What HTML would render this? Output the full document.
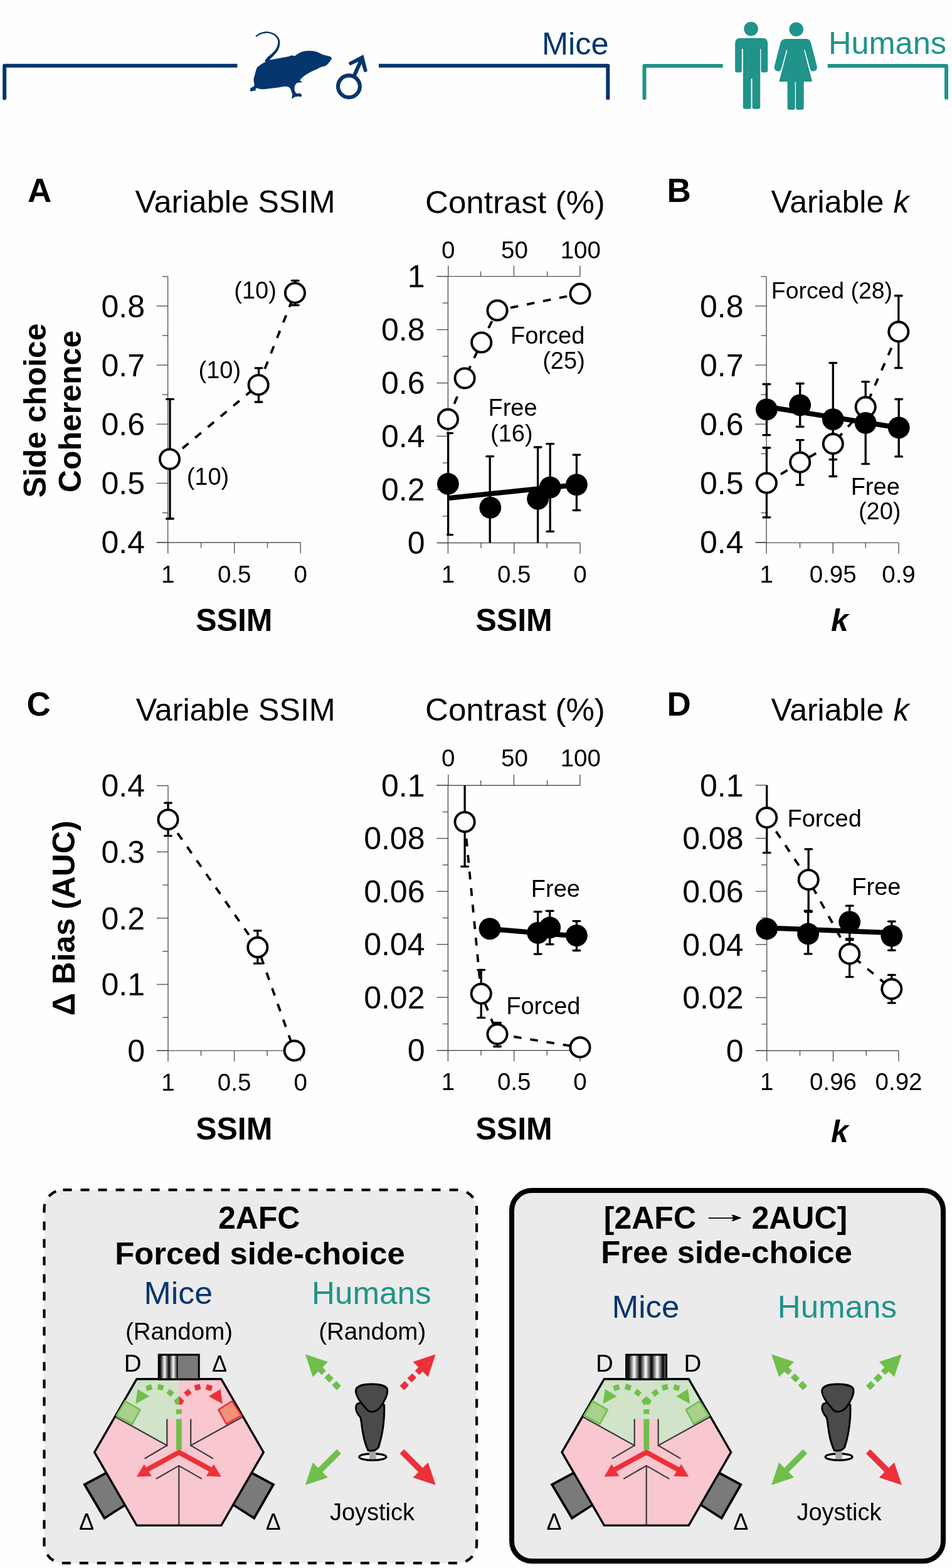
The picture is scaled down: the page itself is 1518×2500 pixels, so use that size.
<!DOCTYPE html>
<html><head><meta charset="utf-8"><title>Figure</title>
<style>
html,body{margin:0;padding:0;background:#FEFEFE;width:1518px;height:2500px;overflow:hidden;}
svg{display:block;}
text{font-family:'Liberation Sans', Arial, sans-serif;}
</style></head>
<body>
<svg width="1518" height="2500" viewBox="0 0 1518 2500">
<defs>
<linearGradient id="g1" x1="0" x2="1" y1="0" y2="0">
<stop offset="0" stop-color="#000"/><stop offset="0.5" stop-color="#fff"/><stop offset="1" stop-color="#000"/>
</linearGradient>
<pattern id="grat2" patternUnits="userSpaceOnUse" x="255.4" y="0" width="14" height="50">
<rect width="14" height="50" fill="url(#g1)"/>
</pattern>
<pattern id="grat3" patternUnits="userSpaceOnUse" x="1002" y="0" width="18.4" height="50">
<rect width="18.4" height="50" fill="url(#g1)"/>
</pattern>
</defs>
<rect x="0" y="0" width="1518" height="2500" fill="#FEFEFE"/>
<g fill="none" stroke="#04356D" stroke-width="6" stroke-linejoin="round">
<path d="M7.2 156.5 L7.2 104.8 L378.4 104.8"/>
<path d="M604 104.8 L969.3 104.8 L969.3 156.3"/>
</g>
<g fill="#04356D">
<circle cx="7.2" cy="156.5" r="3"/><circle cx="969.3" cy="156.3" r="3"/>
</g>
<g fill="none" stroke="#20938A" stroke-width="6" stroke-linejoin="round">
<path d="M1027.5 156.3 L1027.5 105 L1152.7 105"/>
<path d="M1319.7 105 L1509 105 L1509 156"/>
</g>
<g fill="#20938A">
<circle cx="1027.5" cy="156.3" r="3"/><circle cx="1509" cy="156" r="3"/>
</g>
<text x="864" y="87.1" font-size="50.5" fill="#04356D">Mice</text>
<text x="1321" y="86.3" font-size="50.5" fill="#20938A">Humans</text>
<path d="M420.1 100.2 C422.5 98.9 426.4 96.8 430.1 95.7 C433.8 94.6 440.5 93.8 445 93 C449.5 92.2 457.3 90.8 460.2 90.1 C463.1 89.4 462.7 88.8 464.2 88.6 C465.7 88.4 468.8 89.3 470.2 89.1 C471.6 88.9 471.7 88 473.2 87.1 C474.7 86.2 477.6 84 480.2 83.1 C482.8 82.2 487.3 81.3 490.3 81.1 C493.3 80.9 497.6 81.1 500.3 81.6 C503 82 506.2 83.3 508.3 84.1 C510.4 84.9 512.5 86.4 514.3 87.1 C516.1 87.8 518.6 88.1 520.4 88.6 C522.2 89.1 525.1 89.6 526.4 90.3 C527.7 91 528.8 92.2 528.9 93.1 C529 94 528.4 94.8 527.4 96.2 C526.4 97.6 523.8 100.9 522.4 102.2 C521 103.5 519.8 104.5 518.3 105.2 C516.8 105.9 514.2 106 512.3 106.7 C510.3 107.5 507.7 109.1 505.3 110.2 C502.9 111.3 499.2 112.7 496.3 114.2 C493.4 115.7 488.7 118.5 486.3 120.2 C483.9 121.9 481.4 123.9 480.2 125.2 C479 126.5 478.5 127.8 478.6 128.6 C478.8 129.3 481 129.7 481.2 130.2 C481.4 130.7 480.8 131.5 480.2 131.7 C479.6 131.9 478.4 131.2 477.2 131.4 C476 131.6 473.3 132.1 472.2 133.3 C471.1 134.5 470 137.5 469.7 139.3 C469.4 141.1 469.7 143.8 470.2 145.3 C470.7 146.8 472 148.5 473.2 149 C474.4 149.5 477 148.5 478.2 148.8 C479.4 149.1 480.6 150.5 480.9 151.3 C481.2 152.1 480.9 153.9 480.2 154.3 C479.5 154.7 477.7 153.8 476.2 153.8 C474.7 153.8 471.7 154 470.2 154.5 C468.7 155 466.9 157.2 466.2 157.3 C465.4 157.4 465.2 156.2 465.2 155.3 C465.2 154.4 466.3 152.7 466.2 151.3 C466.1 150 465.3 148 464.7 146.3 C464.1 144.7 463.6 141.6 462.2 140.3 C460.8 139 457.8 138 455.2 137.8 C452.6 137.7 448.9 138.8 445.1 139.3 C441.3 139.8 434.2 140.9 430.1 141.3 C426.1 141.8 420.8 142.3 418.1 142.3 C415.4 142.3 413.6 141.6 412.1 141.3 C410.6 141 408.7 140.2 408 140.6 C407.3 141 408.1 143.7 407.5 144.3 C406.9 144.9 405.1 144.6 404 144.8 C402.9 145 400.8 146 400 145.8 C399.2 145.6 399.1 144.1 399 143.3 C398.9 142.5 398.9 141 399.5 140.3 C400.1 139.6 402.1 139.4 403 138.8 C403.9 138.2 405.2 137.6 405.5 136.3 C405.8 135 404.9 131.7 404.8 130.2 C404.7 128.7 404.2 128 404.5 126.2 C404.8 124.4 405.7 120.9 406.5 118.2 C407.3 115.5 408.5 110.3 409.6 108.2 C410.7 106.1 412.5 105.4 414.1 104.2 C415.7 103 417.7 101.5 420.1 100.2 Z" fill="#04356D"/>
<path d="M408.6 58.9 C409.9 58.2 413.3 55.4 416.4 54.4 C419.4 53.3 423.6 52.5 427 52.8 C430.4 53.1 434.2 54.6 436.8 56.3 C439.4 58 441.4 60.8 442.5 63.1 C443.5 65.4 443.4 67.7 442.9 70.3 C442.5 72.8 441.2 76 439.6 78.5 C438 81.1 435.5 83.3 433.4 85.5 C431.2 87.6 428.4 89.3 426.5 91.3 C424.6 93.3 422.8 96.3 422 97.3 L427 100.7 C427.6 99.7 428.9 96.7 430.5 94.7 C432.1 92.7 434.5 90.9 436.6 88.5 C438.7 86.2 441.4 83.4 443 80.5 C444.6 77.5 445.9 73.8 446.3 70.7 C446.6 67.6 446.5 64.7 445.1 61.9 C443.8 59.1 441.2 56 438.2 54.1 C435.2 52.2 431 50.7 427.2 50.4 C423.4 50.1 418.9 51.1 415.6 52.2 C412.3 53.3 408.8 56.2 407.4 57.1 Z" fill="#04356D"/>
<g fill="none" stroke="#04356D" stroke-width="6.1">
<circle cx="556.4" cy="137.8" r="17.4"/>
<path d="M564 122.5 L578 91"/>
</g>
<path d="M579.4 87.3 L585.9 113.5 L580.8 115.6 L576.3 101.5 L571.2 98.6 L558.1 104.6 L555.5 99.7 Z" fill="#04356D"/>
<g fill="#20938A">
<circle cx="1197.5" cy="46.1" r="11.3"/>
<path d="M1180.5 60.8 L1215.8 60.8 Q1224.2 60.8 1224.2 69.2 L1224.2 112.6 Q1224.2 115.6 1221.2 115.6 L1216.5 115.6 Q1213.5 115.6 1213.5 112.6 L1213.5 78 L1212.2 78 L1212.2 170.5 Q1212.2 173.7 1209 173.7 L1203 173.7 Q1199.5 173.7 1199.5 170.5 L1199.5 125.6 L1197.5 125.6 L1197.5 170.5 Q1197.5 173.7 1194.3 173.7 L1188 173.7 Q1184.8 173.7 1184.8 170.5 L1184.8 78 L1182.8 78 L1182.8 112.6 Q1182.8 115.6 1179.8 115.6 L1175.1 115.6 Q1172.1 115.6 1172.1 112.6 L1172.1 69.2 Q1172.1 60.8 1180.5 60.8 Z"/>
<circle cx="1269.7" cy="46.7" r="11.3"/>
<path d="M1254 62.1 L1285.5 62.1 Q1291 62.1 1293 68 L1302.5 105 Q1304 112.5 1297.5 113.6 Q1293 114 1291.8 110 L1283.5 79.5 L1282 79.8 L1295.1 130.3 L1281.7 130.3 L1281.7 171.5 Q1281.7 175 1278.2 175 L1272.5 175 Q1269 175 1269 171.5 L1269 130.3 L1267.7 130.3 L1267.7 171.5 Q1267.7 175 1264.2 175 L1259 175 Q1255.6 175 1255.6 171.5 L1255.6 130.3 L1242.3 130.3 L1255.5 79.8 L1254 79.5 L1245.7 110 Q1244.5 114 1240 113.6 Q1233.5 112.5 1235 105 L1244.5 68 Q1246.5 62.1 1254 62.1 Z"/>
</g>
<text x="44" y="321.7" font-size="53" font-weight="bold">A</text>
<text x="215.5" y="339" font-size="50" textLength="319.2" lengthAdjust="spacingAndGlyphs">Variable SSIM</text>
<line x1="267.6" y1="440.7" x2="267.6" y2="865" stroke="#555555" stroke-width="1.4"/>
<line x1="249.6" y1="864.7" x2="267.6" y2="864.7" stroke="#555555" stroke-width="1.4"/>
<line x1="249.6" y1="770.5" x2="267.6" y2="770.5" stroke="#555555" stroke-width="1.4"/>
<line x1="249.6" y1="676.3" x2="267.6" y2="676.3" stroke="#555555" stroke-width="1.4"/>
<line x1="249.6" y1="582.1" x2="267.6" y2="582.1" stroke="#555555" stroke-width="1.4"/>
<line x1="249.6" y1="487.9" x2="267.6" y2="487.9" stroke="#555555" stroke-width="1.4"/>
<line x1="259" y1="817.6" x2="267.6" y2="817.6" stroke="#555555" stroke-width="1.4"/>
<line x1="259" y1="723.4" x2="267.6" y2="723.4" stroke="#555555" stroke-width="1.4"/>
<line x1="259" y1="629.2" x2="267.6" y2="629.2" stroke="#555555" stroke-width="1.4"/>
<line x1="259" y1="535" x2="267.6" y2="535" stroke="#555555" stroke-width="1.4"/>
<line x1="259" y1="440.8" x2="267.6" y2="440.8" stroke="#555555" stroke-width="1.4"/>
<text x="231" y="882.3" font-size="50" text-anchor="end">0.4</text>
<text x="231" y="788.1" font-size="50" text-anchor="end">0.5</text>
<text x="231" y="693.9" font-size="50" text-anchor="end">0.6</text>
<text x="231" y="599.7" font-size="50" text-anchor="end">0.7</text>
<text x="231" y="505.5" font-size="50" text-anchor="end">0.8</text>
<line x1="250" y1="865" x2="479.5" y2="865" stroke="#555555" stroke-width="1.4"/>
<line x1="267.7" y1="865" x2="267.7" y2="882.4" stroke="#555555" stroke-width="1.4"/>
<line x1="373.7" y1="865" x2="373.7" y2="882.4" stroke="#555555" stroke-width="1.4"/>
<line x1="479.2" y1="865" x2="479.2" y2="882.4" stroke="#555555" stroke-width="1.4"/>
<line x1="320.6" y1="865" x2="320.6" y2="873.4" stroke="#555555" stroke-width="1.4"/>
<line x1="426.5" y1="865" x2="426.5" y2="873.4" stroke="#555555" stroke-width="1.4"/>
<text x="267.7" y="928.6" font-size="38.5" text-anchor="middle">1</text>
<text x="373.7" y="928.6" font-size="38.5" text-anchor="middle">0.5</text>
<text x="479.2" y="928.6" font-size="38.5" text-anchor="middle">0</text>
<text x="373.4" y="1006" font-size="50" text-anchor="middle" font-weight="bold">SSIM</text>
<g transform="translate(73,654.5) rotate(-90)">
<text x="0" y="0" font-size="50" text-anchor="middle" font-weight="bold">Side choice</text>
</g>
<g transform="translate(129.3,656) rotate(-90)">
<text x="0" y="0" font-size="50" text-anchor="middle" font-weight="bold">Coherence</text>
</g>
<path d="M270.5 732 L412.1 613.7 L470.4 467" fill="none" stroke="#000" stroke-width="3.8" stroke-dasharray="12.5 14"/>
<g stroke="#000" stroke-width="3.3" stroke-linecap="round" fill="none">
<line x1="271" y1="636.4" x2="271" y2="827" stroke-linecap="butt"/>
<line x1="265.6" y1="636.4" x2="276.4" y2="636.4"/>
<line x1="265.6" y1="827" x2="276.4" y2="827"/>
</g>
<g stroke="#000" stroke-width="3.3" stroke-linecap="round" fill="none">
<line x1="412.5" y1="586.8" x2="412.5" y2="641" stroke-linecap="butt"/>
<line x1="407.1" y1="586.8" x2="417.9" y2="586.8"/>
<line x1="407.1" y1="641" x2="417.9" y2="641"/>
</g>
<g stroke="#000" stroke-width="3.3" stroke-linecap="round" fill="none">
<line x1="470.7" y1="447.3" x2="470.7" y2="486.6" stroke-linecap="butt"/>
<line x1="465.3" y1="447.3" x2="476.1" y2="447.3"/>
<line x1="465.3" y1="486.6" x2="476.1" y2="486.6"/>
</g>
<circle cx="270.5" cy="732" r="15.6" fill="#fff" stroke="#000" stroke-width="3.9"/>
<circle cx="412.1" cy="613.7" r="15.6" fill="#fff" stroke="#000" stroke-width="3.9"/>
<circle cx="470.4" cy="467" r="15.6" fill="#fff" stroke="#000" stroke-width="3.9"/>
<text x="297.7" y="773.1" font-size="38">(10)</text>
<text x="316.5" y="602.5" font-size="38">(10)</text>
<text x="373.3" y="476" font-size="38">(10)</text>
<text x="678" y="339.6" font-size="50" textLength="286.9" lengthAdjust="spacingAndGlyphs">Contrast (%)</text>
<line x1="714.4" y1="440.6" x2="714.4" y2="865.5" stroke="#555555" stroke-width="1.4"/>
<line x1="696.4" y1="865.5" x2="714.4" y2="865.5" stroke="#555555" stroke-width="1.4"/>
<line x1="696.4" y1="780.5" x2="714.4" y2="780.5" stroke="#555555" stroke-width="1.4"/>
<line x1="696.4" y1="695.5" x2="714.4" y2="695.5" stroke="#555555" stroke-width="1.4"/>
<line x1="696.4" y1="610.6" x2="714.4" y2="610.6" stroke="#555555" stroke-width="1.4"/>
<line x1="696.4" y1="525.6" x2="714.4" y2="525.6" stroke="#555555" stroke-width="1.4"/>
<line x1="696.4" y1="440.6" x2="714.4" y2="440.6" stroke="#555555" stroke-width="1.4"/>
<line x1="705.8" y1="823" x2="714.4" y2="823" stroke="#555555" stroke-width="1.4"/>
<line x1="705.8" y1="738" x2="714.4" y2="738" stroke="#555555" stroke-width="1.4"/>
<line x1="705.8" y1="653" x2="714.4" y2="653" stroke="#555555" stroke-width="1.4"/>
<line x1="705.8" y1="568.1" x2="714.4" y2="568.1" stroke="#555555" stroke-width="1.4"/>
<line x1="705.8" y1="483.1" x2="714.4" y2="483.1" stroke="#555555" stroke-width="1.4"/>
<text x="677.5" y="883.1" font-size="50" text-anchor="end">0</text>
<text x="677.5" y="798.1" font-size="50" text-anchor="end">0.2</text>
<text x="677.5" y="713.1" font-size="50" text-anchor="end">0.4</text>
<text x="677.5" y="628.2" font-size="50" text-anchor="end">0.6</text>
<text x="677.5" y="543.2" font-size="50" text-anchor="end">0.8</text>
<text x="677.5" y="458.2" font-size="50" text-anchor="end">1</text>
<line x1="697.6" y1="865.5" x2="925" y2="865.5" stroke="#555555" stroke-width="1.4"/>
<line x1="714.4" y1="865.5" x2="714.4" y2="882.9" stroke="#555555" stroke-width="1.4"/>
<line x1="819.7" y1="865.5" x2="819.7" y2="882.9" stroke="#555555" stroke-width="1.4"/>
<line x1="925" y1="865.5" x2="925" y2="882.9" stroke="#555555" stroke-width="1.4"/>
<line x1="767" y1="865.5" x2="767" y2="873.9" stroke="#555555" stroke-width="1.4"/>
<line x1="872.2" y1="865.5" x2="872.2" y2="873.9" stroke="#555555" stroke-width="1.4"/>
<text x="714.4" y="928.6" font-size="38.5" text-anchor="middle">1</text>
<text x="819.7" y="928.6" font-size="38.5" text-anchor="middle">0.5</text>
<text x="925" y="928.6" font-size="38.5" text-anchor="middle">0</text>
<line x1="696.2" y1="440.6" x2="925.3" y2="440.6" stroke="#555555" stroke-width="1.4"/>
<line x1="714.8" y1="440.6" x2="714.8" y2="423.4" stroke="#555555" stroke-width="1.4"/>
<line x1="819.4" y1="440.6" x2="819.4" y2="423.4" stroke="#555555" stroke-width="1.4"/>
<line x1="924.8" y1="440.6" x2="924.8" y2="423.4" stroke="#555555" stroke-width="1.4"/>
<line x1="766.5" y1="440.6" x2="766.5" y2="432.6" stroke="#555555" stroke-width="1.4"/>
<line x1="872.6" y1="440.6" x2="872.6" y2="432.6" stroke="#555555" stroke-width="1.4"/>
<text x="714.8" y="412.3" font-size="38.5" text-anchor="middle">0</text>
<text x="820.4" y="412.3" font-size="38.5" text-anchor="middle">50</text>
<text x="925.8" y="412.3" font-size="38.5" text-anchor="middle">100</text>
<text x="819.6" y="1006" font-size="50" text-anchor="middle" font-weight="bold">SSIM</text>
<g stroke="#000" stroke-width="3.3" fill="none">
<line x1="714.6" y1="690.6" x2="714.6" y2="852.7"/>
<line x1="713.6" y1="690.6" x2="721.5" y2="690.6" stroke-linecap="round"/>
<line x1="713.6" y1="852.7" x2="721.5" y2="852.7" stroke-linecap="round"/>
</g>
<g stroke="#000" stroke-width="3.3" stroke-linecap="round" fill="none">
<line x1="781.2" y1="727.7" x2="781.2" y2="865.5" stroke-linecap="butt"/>
<line x1="775.8" y1="727.7" x2="786.6" y2="727.7"/>
</g>
<g stroke="#000" stroke-width="3.3" stroke-linecap="round" fill="none">
<line x1="857.6" y1="713" x2="857.6" y2="865.5" stroke-linecap="butt"/>
<line x1="852.2" y1="713" x2="863" y2="713"/>
</g>
<g stroke="#000" stroke-width="3.3" stroke-linecap="round" fill="none">
<line x1="877.2" y1="707.7" x2="877.2" y2="847.3" stroke-linecap="butt"/>
<line x1="871.8" y1="707.7" x2="882.6" y2="707.7"/>
<line x1="871.8" y1="847.3" x2="882.6" y2="847.3"/>
</g>
<g stroke="#000" stroke-width="3.3" stroke-linecap="round" fill="none">
<line x1="919.4" y1="725.1" x2="919.4" y2="813.6" stroke-linecap="butt"/>
<line x1="914" y1="725.1" x2="924.8" y2="725.1"/>
<line x1="914" y1="813.6" x2="924.8" y2="813.6"/>
</g>
<path d="M714.4 794.2 L919.4 772.9" fill="none" stroke="#000" stroke-width="8"/>
<circle cx="714.4" cy="771.5" r="17.4" fill="#000"/>
<circle cx="781.8" cy="809.4" r="17.4" fill="#000"/>
<circle cx="857.6" cy="795.3" r="17.4" fill="#000"/>
<circle cx="877.2" cy="777.1" r="17.4" fill="#000"/>
<circle cx="919.4" cy="772.9" r="17.4" fill="#000"/>
<path d="M714.4 668.4 L741.1 603 L767.7 546 L793 494.9 L925 468.3" fill="none" stroke="#000" stroke-width="3.8" stroke-dasharray="12.5 14"/>
<circle cx="714.4" cy="668.4" r="15.6" fill="#fff" stroke="#000" stroke-width="3.9"/>
<circle cx="741.1" cy="603" r="15.6" fill="#fff" stroke="#000" stroke-width="3.9"/>
<circle cx="767.7" cy="546" r="15.6" fill="#fff" stroke="#000" stroke-width="3.9"/>
<circle cx="793" cy="494.9" r="15.6" fill="#fff" stroke="#000" stroke-width="3.9"/>
<circle cx="925" cy="468.3" r="15.6" fill="#fff" stroke="#000" stroke-width="3.9"/>
<text x="814" y="547.8" font-size="38">Forced</text>
<text x="932.8" y="588.3" font-size="38" text-anchor="end">(25)</text>
<text x="778.5" y="663.4" font-size="38">Free</text>
<text x="782" y="703.5" font-size="38">(16)</text>
<text x="1063.5" y="321.5" font-size="53" font-weight="bold">B</text>
<text x="1229.5" y="338.7" font-size="50">Variable </text>
<text x="1424.5" y="338.7" font-size="50" font-style="italic">k</text>
<line x1="1222.1" y1="440.9" x2="1222.1" y2="865" stroke="#555555" stroke-width="1.4"/>
<line x1="1204.1" y1="864.7" x2="1222.1" y2="864.7" stroke="#555555" stroke-width="1.4"/>
<line x1="1204.1" y1="770.5" x2="1222.1" y2="770.5" stroke="#555555" stroke-width="1.4"/>
<line x1="1204.1" y1="676.3" x2="1222.1" y2="676.3" stroke="#555555" stroke-width="1.4"/>
<line x1="1204.1" y1="582.1" x2="1222.1" y2="582.1" stroke="#555555" stroke-width="1.4"/>
<line x1="1204.1" y1="487.9" x2="1222.1" y2="487.9" stroke="#555555" stroke-width="1.4"/>
<line x1="1213.5" y1="817.6" x2="1222.1" y2="817.6" stroke="#555555" stroke-width="1.4"/>
<line x1="1213.5" y1="723.4" x2="1222.1" y2="723.4" stroke="#555555" stroke-width="1.4"/>
<line x1="1213.5" y1="629.2" x2="1222.1" y2="629.2" stroke="#555555" stroke-width="1.4"/>
<line x1="1213.5" y1="535" x2="1222.1" y2="535" stroke="#555555" stroke-width="1.4"/>
<line x1="1213.5" y1="440.8" x2="1222.1" y2="440.8" stroke="#555555" stroke-width="1.4"/>
<text x="1185.5" y="882.3" font-size="50" text-anchor="end">0.4</text>
<text x="1185.5" y="788.1" font-size="50" text-anchor="end">0.5</text>
<text x="1185.5" y="693.9" font-size="50" text-anchor="end">0.6</text>
<text x="1185.5" y="599.7" font-size="50" text-anchor="end">0.7</text>
<text x="1185.5" y="505.5" font-size="50" text-anchor="end">0.8</text>
<line x1="1205.5" y1="865.4" x2="1433" y2="865.4" stroke="#555555" stroke-width="1.4"/>
<line x1="1222.1" y1="865.4" x2="1222.1" y2="882.8" stroke="#555555" stroke-width="1.4"/>
<line x1="1328.2" y1="865.4" x2="1328.2" y2="882.8" stroke="#555555" stroke-width="1.4"/>
<line x1="1433" y1="865.4" x2="1433" y2="882.8" stroke="#555555" stroke-width="1.4"/>
<line x1="1275.5" y1="865.4" x2="1275.5" y2="873.8" stroke="#555555" stroke-width="1.4"/>
<line x1="1380.3" y1="865.4" x2="1380.3" y2="873.8" stroke="#555555" stroke-width="1.4"/>
<text x="1222.1" y="928.6" font-size="38.5" text-anchor="middle">1</text>
<text x="1328.2" y="928.6" font-size="38.5" text-anchor="middle">0.95</text>
<text x="1433" y="928.6" font-size="38.5" text-anchor="middle">0.9</text>
<text x="1339" y="1006" font-size="50" text-anchor="middle" font-weight="bold" font-style="italic">k</text>
<path d="M1222.4 648.5 L1433.2 682" fill="none" stroke="#000" stroke-width="8"/>
<path d="M1222.4 770.1 L1275.7 737.1 L1328.3 707.6 L1380.2 648.8 L1432.8 528.8" fill="none" stroke="#000" stroke-width="3.8" stroke-dasharray="12.5 14"/>
<g stroke="#000" stroke-width="3.3" stroke-linecap="round" fill="none">
<line x1="1222.4" y1="714" x2="1222.4" y2="824.9" stroke-linecap="butt"/>
<line x1="1217" y1="714" x2="1227.8" y2="714"/>
<line x1="1217" y1="824.9" x2="1227.8" y2="824.9"/>
</g>
<g stroke="#000" stroke-width="3.3" stroke-linecap="round" fill="none">
<line x1="1275.7" y1="701.6" x2="1275.7" y2="773.1" stroke-linecap="butt"/>
<line x1="1270.3" y1="701.6" x2="1281.1" y2="701.6"/>
<line x1="1270.3" y1="773.1" x2="1281.1" y2="773.1"/>
</g>
<g stroke="#000" stroke-width="3.3" stroke-linecap="round" fill="none">
<line x1="1328.3" y1="686" x2="1328.3" y2="732.7" stroke-linecap="butt"/>
<line x1="1322.9" y1="732.7" x2="1333.7" y2="732.7"/>
</g>
<g stroke="#000" stroke-width="3.3" stroke-linecap="round" fill="none">
<line x1="1380.2" y1="608.7" x2="1380.2" y2="660" stroke-linecap="butt"/>
<line x1="1374.8" y1="608.7" x2="1385.6" y2="608.7"/>
</g>
<g stroke="#000" stroke-width="3.3" stroke-linecap="round" fill="none">
<line x1="1432.8" y1="471.5" x2="1432.8" y2="586.7" stroke-linecap="butt"/>
<line x1="1427.4" y1="471.5" x2="1438.2" y2="471.5"/>
<line x1="1427.4" y1="586.7" x2="1438.2" y2="586.7"/>
</g>
<g stroke="#000" stroke-width="3.3" stroke-linecap="round" fill="none">
<line x1="1222.4" y1="612.5" x2="1222.4" y2="693.7" stroke-linecap="butt"/>
<line x1="1217" y1="612.5" x2="1227.8" y2="612.5"/>
<line x1="1217" y1="693.7" x2="1227.8" y2="693.7"/>
</g>
<g stroke="#000" stroke-width="3.3" stroke-linecap="round" fill="none">
<line x1="1275.7" y1="611.5" x2="1275.7" y2="680.3" stroke-linecap="butt"/>
<line x1="1270.3" y1="611.5" x2="1281.1" y2="611.5"/>
<line x1="1270.3" y1="680.3" x2="1281.1" y2="680.3"/>
</g>
<g stroke="#000" stroke-width="3.3" stroke-linecap="round" fill="none">
<line x1="1328.3" y1="578.7" x2="1328.3" y2="759.5" stroke-linecap="butt"/>
<line x1="1322.9" y1="578.7" x2="1333.7" y2="578.7"/>
<line x1="1322.9" y1="759.5" x2="1333.7" y2="759.5"/>
</g>
<g stroke="#000" stroke-width="3.3" stroke-linecap="round" fill="none">
<line x1="1380.2" y1="660" x2="1380.2" y2="739.7" stroke-linecap="butt"/>
<line x1="1374.8" y1="739.7" x2="1385.6" y2="739.7"/>
</g>
<g stroke="#000" stroke-width="3.3" stroke-linecap="round" fill="none">
<line x1="1433.2" y1="636.5" x2="1433.2" y2="727.9" stroke-linecap="butt"/>
<line x1="1427.8" y1="636.5" x2="1438.6" y2="636.5"/>
<line x1="1427.8" y1="727.9" x2="1438.6" y2="727.9"/>
</g>
<circle cx="1222.4" cy="770.1" r="15.6" fill="#fff" stroke="#000" stroke-width="3.9"/>
<circle cx="1275.7" cy="737.1" r="15.6" fill="#fff" stroke="#000" stroke-width="3.9"/>
<circle cx="1328.3" cy="707.6" r="15.6" fill="#fff" stroke="#000" stroke-width="3.9"/>
<circle cx="1380.2" cy="648.8" r="15.6" fill="#fff" stroke="#000" stroke-width="3.9"/>
<circle cx="1432.8" cy="528.8" r="15.6" fill="#fff" stroke="#000" stroke-width="3.9"/>
<circle cx="1222.4" cy="652.9" r="17.4" fill="#000"/>
<circle cx="1275.7" cy="645.8" r="17.4" fill="#000"/>
<circle cx="1328.3" cy="668.6" r="17.4" fill="#000"/>
<circle cx="1380.2" cy="674.4" r="17.4" fill="#000"/>
<circle cx="1433.2" cy="681.9" r="17.4" fill="#000"/>
<text x="1229.8" y="475.5" font-size="37.4">Forced (28)</text>
<text x="1434.8" y="789.2" font-size="38" text-anchor="end">Free</text>
<text x="1436.5" y="828" font-size="38" text-anchor="end">(20)</text>
<text x="42.6" y="1141" font-size="53" font-weight="bold">C</text>
<text x="216.8" y="1149.1" font-size="50" textLength="318" lengthAdjust="spacingAndGlyphs">Variable SSIM</text>
<line x1="268" y1="1252.5" x2="268" y2="1675.1" stroke="#555555" stroke-width="1.4"/>
<line x1="250" y1="1675.1" x2="268" y2="1675.1" stroke="#555555" stroke-width="1.4"/>
<line x1="250" y1="1569.5" x2="268" y2="1569.5" stroke="#555555" stroke-width="1.4"/>
<line x1="250" y1="1463.9" x2="268" y2="1463.9" stroke="#555555" stroke-width="1.4"/>
<line x1="250" y1="1358.3" x2="268" y2="1358.3" stroke="#555555" stroke-width="1.4"/>
<line x1="250" y1="1252.7" x2="268" y2="1252.7" stroke="#555555" stroke-width="1.4"/>
<line x1="259.4" y1="1622.3" x2="268" y2="1622.3" stroke="#555555" stroke-width="1.4"/>
<line x1="259.4" y1="1516.7" x2="268" y2="1516.7" stroke="#555555" stroke-width="1.4"/>
<line x1="259.4" y1="1411.1" x2="268" y2="1411.1" stroke="#555555" stroke-width="1.4"/>
<line x1="259.4" y1="1305.5" x2="268" y2="1305.5" stroke="#555555" stroke-width="1.4"/>
<text x="231" y="1692.7" font-size="50" text-anchor="end">0</text>
<text x="231" y="1587.1" font-size="50" text-anchor="end">0.1</text>
<text x="231" y="1481.5" font-size="50" text-anchor="end">0.2</text>
<text x="231" y="1375.9" font-size="50" text-anchor="end">0.3</text>
<text x="231" y="1270.3" font-size="50" text-anchor="end">0.4</text>
<line x1="249.6" y1="1675.1" x2="479.2" y2="1675.1" stroke="#555555" stroke-width="1.4"/>
<line x1="268" y1="1675.1" x2="268" y2="1692.5" stroke="#555555" stroke-width="1.4"/>
<line x1="373.6" y1="1675.1" x2="373.6" y2="1692.5" stroke="#555555" stroke-width="1.4"/>
<line x1="479.2" y1="1675.1" x2="479.2" y2="1692.5" stroke="#555555" stroke-width="1.4"/>
<line x1="320.5" y1="1675.1" x2="320.5" y2="1683.5" stroke="#555555" stroke-width="1.4"/>
<line x1="426" y1="1675.1" x2="426" y2="1683.5" stroke="#555555" stroke-width="1.4"/>
<text x="268" y="1739" font-size="38.5" text-anchor="middle">1</text>
<text x="373.6" y="1739" font-size="38.5" text-anchor="middle">0.5</text>
<text x="479.2" y="1739" font-size="38.5" text-anchor="middle">0</text>
<text x="373.3" y="1816.5" font-size="50" text-anchor="middle" font-weight="bold">SSIM</text>
<g transform="translate(118.7,1463.8) rotate(-90)">
<text x="0" y="0" font-size="50" text-anchor="middle" font-weight="bold">Δ Bias (AUC)</text>
</g>
<path d="M268 1306.7 L410.8 1510.4 L469.2 1675.1" fill="none" stroke="#000" stroke-width="3.8" stroke-dasharray="12.5 14"/>
<g stroke="#000" stroke-width="3.3" stroke-linecap="round" fill="none">
<line x1="268" y1="1280.1" x2="268" y2="1332.6" stroke-linecap="butt"/>
<line x1="262.6" y1="1280.1" x2="273.4" y2="1280.1"/>
<line x1="262.6" y1="1332.6" x2="273.4" y2="1332.6"/>
</g>
<g stroke="#000" stroke-width="3.3" stroke-linecap="round" fill="none">
<line x1="410.8" y1="1483.8" x2="410.8" y2="1536.2" stroke-linecap="butt"/>
<line x1="405.4" y1="1483.8" x2="416.2" y2="1483.8"/>
<line x1="405.4" y1="1536.2" x2="416.2" y2="1536.2"/>
</g>
<circle cx="268" cy="1306.7" r="15.6" fill="#fff" stroke="#000" stroke-width="3.9"/>
<circle cx="410.8" cy="1510.4" r="15.6" fill="#fff" stroke="#000" stroke-width="3.9"/>
<circle cx="469.2" cy="1675.1" r="15.6" fill="#fff" stroke="#000" stroke-width="3.9"/>
<text x="678" y="1149.1" font-size="50" textLength="286.9" lengthAdjust="spacingAndGlyphs">Contrast (%)</text>
<line x1="714.4" y1="1252.2" x2="714.4" y2="1674.7" stroke="#555555" stroke-width="1.4"/>
<line x1="696.4" y1="1674.7" x2="714.4" y2="1674.7" stroke="#555555" stroke-width="1.4"/>
<line x1="696.4" y1="1590.2" x2="714.4" y2="1590.2" stroke="#555555" stroke-width="1.4"/>
<line x1="696.4" y1="1505.7" x2="714.4" y2="1505.7" stroke="#555555" stroke-width="1.4"/>
<line x1="696.4" y1="1421.2" x2="714.4" y2="1421.2" stroke="#555555" stroke-width="1.4"/>
<line x1="696.4" y1="1336.7" x2="714.4" y2="1336.7" stroke="#555555" stroke-width="1.4"/>
<line x1="696.4" y1="1252.2" x2="714.4" y2="1252.2" stroke="#555555" stroke-width="1.4"/>
<line x1="705.8" y1="1632.5" x2="714.4" y2="1632.5" stroke="#555555" stroke-width="1.4"/>
<line x1="705.8" y1="1548" x2="714.4" y2="1548" stroke="#555555" stroke-width="1.4"/>
<line x1="705.8" y1="1463.5" x2="714.4" y2="1463.5" stroke="#555555" stroke-width="1.4"/>
<line x1="705.8" y1="1379" x2="714.4" y2="1379" stroke="#555555" stroke-width="1.4"/>
<line x1="705.8" y1="1294.5" x2="714.4" y2="1294.5" stroke="#555555" stroke-width="1.4"/>
<text x="677.5" y="1692.3" font-size="50" text-anchor="end">0</text>
<text x="677.5" y="1607.8" font-size="50" text-anchor="end">0.02</text>
<text x="677.5" y="1523.3" font-size="50" text-anchor="end">0.04</text>
<text x="677.5" y="1438.8" font-size="50" text-anchor="end">0.06</text>
<text x="677.5" y="1354.3" font-size="50" text-anchor="end">0.08</text>
<text x="677.5" y="1269.8" font-size="50" text-anchor="end">0.1</text>
<line x1="697.6" y1="1674.7" x2="925" y2="1674.7" stroke="#555555" stroke-width="1.4"/>
<line x1="714.4" y1="1674.7" x2="714.4" y2="1692.1" stroke="#555555" stroke-width="1.4"/>
<line x1="819.7" y1="1674.7" x2="819.7" y2="1692.1" stroke="#555555" stroke-width="1.4"/>
<line x1="925" y1="1674.7" x2="925" y2="1692.1" stroke="#555555" stroke-width="1.4"/>
<line x1="767" y1="1674.7" x2="767" y2="1683.1" stroke="#555555" stroke-width="1.4"/>
<line x1="872.2" y1="1674.7" x2="872.2" y2="1683.1" stroke="#555555" stroke-width="1.4"/>
<text x="714.4" y="1738" font-size="38.5" text-anchor="middle">1</text>
<text x="819.7" y="1738" font-size="38.5" text-anchor="middle">0.5</text>
<text x="925" y="1738" font-size="38.5" text-anchor="middle">0</text>
<line x1="696.2" y1="1252.2" x2="925.3" y2="1252.2" stroke="#555555" stroke-width="1.4"/>
<line x1="714.8" y1="1252.2" x2="714.8" y2="1235" stroke="#555555" stroke-width="1.4"/>
<line x1="819.4" y1="1252.2" x2="819.4" y2="1235" stroke="#555555" stroke-width="1.4"/>
<line x1="924.8" y1="1252.2" x2="924.8" y2="1235" stroke="#555555" stroke-width="1.4"/>
<line x1="766.5" y1="1252.2" x2="766.5" y2="1244.2" stroke="#555555" stroke-width="1.4"/>
<line x1="872.6" y1="1252.2" x2="872.6" y2="1244.2" stroke="#555555" stroke-width="1.4"/>
<text x="714.8" y="1222" font-size="38.5" text-anchor="middle">0</text>
<text x="820.4" y="1222" font-size="38.5" text-anchor="middle">50</text>
<text x="925.8" y="1222" font-size="38.5" text-anchor="middle">100</text>
<text x="819.6" y="1816.5" font-size="50" text-anchor="middle" font-weight="bold">SSIM</text>
<g stroke="#000" stroke-width="3.3" stroke-linecap="round" fill="none">
<line x1="741.1" y1="1252.2" x2="741.1" y2="1381.6" stroke-linecap="butt"/>
<line x1="735.7" y1="1381.6" x2="746.5" y2="1381.6"/>
</g>
<g stroke="#000" stroke-width="3.3" stroke-linecap="round" fill="none">
<line x1="767.2" y1="1546.4" x2="767.2" y2="1622.7" stroke-linecap="butt"/>
<line x1="761.8" y1="1546.4" x2="772.6" y2="1546.4"/>
<line x1="761.8" y1="1622.7" x2="772.6" y2="1622.7"/>
</g>
<g stroke="#000" stroke-width="3.3" stroke-linecap="round" fill="none">
<line x1="793" y1="1630.6" x2="793" y2="1668.5" stroke-linecap="butt"/>
<line x1="787.6" y1="1630.6" x2="798.4" y2="1630.6"/>
<line x1="787.6" y1="1668.5" x2="798.4" y2="1668.5"/>
</g>
<g stroke="#000" stroke-width="3.3" stroke-linecap="round" fill="none">
<line x1="857.6" y1="1453.7" x2="857.6" y2="1521.1" stroke-linecap="butt"/>
<line x1="852.2" y1="1453.7" x2="863" y2="1453.7"/>
<line x1="852.2" y1="1521.1" x2="863" y2="1521.1"/>
</g>
<g stroke="#000" stroke-width="3.3" stroke-linecap="round" fill="none">
<line x1="876.7" y1="1452.3" x2="876.7" y2="1505.7" stroke-linecap="butt"/>
<line x1="871.3" y1="1452.3" x2="882.1" y2="1452.3"/>
<line x1="871.3" y1="1505.7" x2="882.1" y2="1505.7"/>
</g>
<g stroke="#000" stroke-width="3.3" stroke-linecap="round" fill="none">
<line x1="919.4" y1="1468.6" x2="919.4" y2="1515.5" stroke-linecap="butt"/>
<line x1="914" y1="1468.6" x2="924.8" y2="1468.6"/>
<line x1="914" y1="1515.5" x2="924.8" y2="1515.5"/>
</g>
<path d="M781 1481 L919.4 1492.6" fill="none" stroke="#000" stroke-width="8"/>
<circle cx="781" cy="1480.8" r="17.4" fill="#000"/>
<circle cx="857.6" cy="1487.4" r="17.4" fill="#000"/>
<circle cx="876.7" cy="1479" r="17.4" fill="#000"/>
<circle cx="919.4" cy="1491.6" r="17.4" fill="#000"/>
<path d="M741.1 1310.5 L767.2 1584.3 L793 1648.8 L925 1669.9" fill="none" stroke="#000" stroke-width="3.8" stroke-dasharray="12.5 14"/>
<circle cx="741.1" cy="1310.5" r="15.6" fill="#fff" stroke="#000" stroke-width="3.9"/>
<circle cx="767.2" cy="1584.3" r="15.6" fill="#fff" stroke="#000" stroke-width="3.9"/>
<circle cx="793" cy="1648.8" r="15.6" fill="#fff" stroke="#000" stroke-width="3.9"/>
<circle cx="925" cy="1669.9" r="15.6" fill="#fff" stroke="#000" stroke-width="3.9"/>
<text x="925" y="1429.9" font-size="38" text-anchor="end">Free</text>
<text x="925.5" y="1616.6" font-size="38" text-anchor="end">Forced</text>
<text x="1063.5" y="1140.9" font-size="53" font-weight="bold">D</text>
<text x="1229.5" y="1148.7" font-size="50">Variable </text>
<text x="1424.5" y="1148.7" font-size="50" font-style="italic">k</text>
<line x1="1222.7" y1="1251.9" x2="1222.7" y2="1675.2" stroke="#555555" stroke-width="1.4"/>
<line x1="1204.7" y1="1675.2" x2="1222.7" y2="1675.2" stroke="#555555" stroke-width="1.4"/>
<line x1="1204.7" y1="1590.5" x2="1222.7" y2="1590.5" stroke="#555555" stroke-width="1.4"/>
<line x1="1204.7" y1="1505.9" x2="1222.7" y2="1505.9" stroke="#555555" stroke-width="1.4"/>
<line x1="1204.7" y1="1421.2" x2="1222.7" y2="1421.2" stroke="#555555" stroke-width="1.4"/>
<line x1="1204.7" y1="1336.6" x2="1222.7" y2="1336.6" stroke="#555555" stroke-width="1.4"/>
<line x1="1204.7" y1="1251.9" x2="1222.7" y2="1251.9" stroke="#555555" stroke-width="1.4"/>
<line x1="1214.1" y1="1632.9" x2="1222.7" y2="1632.9" stroke="#555555" stroke-width="1.4"/>
<line x1="1214.1" y1="1548.2" x2="1222.7" y2="1548.2" stroke="#555555" stroke-width="1.4"/>
<line x1="1214.1" y1="1463.5" x2="1222.7" y2="1463.5" stroke="#555555" stroke-width="1.4"/>
<line x1="1214.1" y1="1378.9" x2="1222.7" y2="1378.9" stroke="#555555" stroke-width="1.4"/>
<line x1="1214.1" y1="1294.2" x2="1222.7" y2="1294.2" stroke="#555555" stroke-width="1.4"/>
<text x="1185.5" y="1692.8" font-size="50" text-anchor="end">0</text>
<text x="1185.5" y="1608.1" font-size="50" text-anchor="end">0.02</text>
<text x="1185.5" y="1523.5" font-size="50" text-anchor="end">0.04</text>
<text x="1185.5" y="1438.8" font-size="50" text-anchor="end">0.06</text>
<text x="1185.5" y="1354.2" font-size="50" text-anchor="end">0.08</text>
<text x="1185.5" y="1269.5" font-size="50" text-anchor="end">0.1</text>
<line x1="1205.5" y1="1675.2" x2="1433" y2="1675.2" stroke="#555555" stroke-width="1.4"/>
<line x1="1222.7" y1="1675.2" x2="1222.7" y2="1692.6" stroke="#555555" stroke-width="1.4"/>
<line x1="1328.5" y1="1675.2" x2="1328.5" y2="1692.6" stroke="#555555" stroke-width="1.4"/>
<line x1="1433" y1="1675.2" x2="1433" y2="1692.6" stroke="#555555" stroke-width="1.4"/>
<line x1="1275.5" y1="1675.2" x2="1275.5" y2="1683.6" stroke="#555555" stroke-width="1.4"/>
<line x1="1381.2" y1="1675.2" x2="1381.2" y2="1683.6" stroke="#555555" stroke-width="1.4"/>
<text x="1222.7" y="1738" font-size="38.5" text-anchor="middle">1</text>
<text x="1328.5" y="1738" font-size="38.5" text-anchor="middle">0.96</text>
<text x="1433" y="1738" font-size="38.5" text-anchor="middle">0.92</text>
<text x="1339" y="1821" font-size="50" text-anchor="middle" font-weight="bold" font-style="italic">k</text>
<g stroke="#000" stroke-width="3.3" stroke-linecap="round" fill="none">
<line x1="1222.7" y1="1251.9" x2="1222.7" y2="1359.6" stroke-linecap="butt"/>
<line x1="1217.3" y1="1359.6" x2="1228.1" y2="1359.6"/>
</g>
<g stroke="#000" stroke-width="3.3" stroke-linecap="round" fill="none">
<line x1="1289.2" y1="1353.8" x2="1289.2" y2="1453.8" stroke-linecap="butt"/>
<line x1="1283.8" y1="1353.8" x2="1294.6" y2="1353.8"/>
<line x1="1283.8" y1="1453.8" x2="1294.6" y2="1453.8"/>
</g>
<g stroke="#000" stroke-width="3.3" stroke-linecap="round" fill="none">
<line x1="1354.7" y1="1496.9" x2="1354.7" y2="1557.6" stroke-linecap="butt"/>
<line x1="1349.3" y1="1496.9" x2="1360.1" y2="1496.9"/>
<line x1="1349.3" y1="1557.6" x2="1360.1" y2="1557.6"/>
</g>
<g stroke="#000" stroke-width="3.3" stroke-linecap="round" fill="none">
<line x1="1421.8" y1="1554.4" x2="1421.8" y2="1599.2" stroke-linecap="butt"/>
<line x1="1416.4" y1="1554.4" x2="1427.2" y2="1554.4"/>
<line x1="1416.4" y1="1599.2" x2="1427.2" y2="1599.2"/>
</g>
<g stroke="#000" stroke-width="3.3" stroke-linecap="round" fill="none">
<line x1="1288.6" y1="1452.2" x2="1288.6" y2="1520.9" stroke-linecap="butt"/>
<line x1="1283.2" y1="1452.2" x2="1294" y2="1452.2"/>
<line x1="1283.2" y1="1520.9" x2="1294" y2="1520.9"/>
</g>
<g stroke="#000" stroke-width="3.3" stroke-linecap="round" fill="none">
<line x1="1354.7" y1="1444.2" x2="1354.7" y2="1498.5" stroke-linecap="butt"/>
<line x1="1349.3" y1="1444.2" x2="1360.1" y2="1444.2"/>
<line x1="1349.3" y1="1498.5" x2="1360.1" y2="1498.5"/>
</g>
<g stroke="#000" stroke-width="3.3" stroke-linecap="round" fill="none">
<line x1="1421.8" y1="1469.1" x2="1421.8" y2="1515.1" stroke-linecap="butt"/>
<line x1="1416.4" y1="1469.1" x2="1427.2" y2="1469.1"/>
<line x1="1416.4" y1="1515.1" x2="1427.2" y2="1515.1"/>
</g>
<path d="M1222.7 1303.6 L1289.2 1402.7 L1354.7 1520.9 L1421.8 1576.8" fill="none" stroke="#000" stroke-width="3.8" stroke-dasharray="12.5 14"/>
<path d="M1222.7 1479.4 L1421.8 1487.3" fill="none" stroke="#000" stroke-width="8"/>
<circle cx="1222.7" cy="1481" r="17.4" fill="#000"/>
<circle cx="1288.6" cy="1489" r="17.4" fill="#000"/>
<circle cx="1354.7" cy="1469.8" r="17.4" fill="#000"/>
<circle cx="1421.8" cy="1492.1" r="17.4" fill="#000"/>
<circle cx="1222.7" cy="1303.6" r="15.6" fill="#fff" stroke="#000" stroke-width="3.9"/>
<circle cx="1289.2" cy="1402.7" r="15.6" fill="#fff" stroke="#000" stroke-width="3.9"/>
<circle cx="1354.7" cy="1520.9" r="15.6" fill="#fff" stroke="#000" stroke-width="3.9"/>
<circle cx="1421.8" cy="1576.8" r="15.6" fill="#fff" stroke="#000" stroke-width="3.9"/>
<text x="1255.5" y="1318" font-size="38">Forced</text>
<text x="1436.5" y="1426.6" font-size="38" text-anchor="end">Free</text>
<rect x="70.5" y="1897.2" width="689.6" height="595" rx="30" ry="30" fill="#EBEBEB" stroke="#000" stroke-width="4.2" stroke-dasharray="14 14"/>
<rect x="816" y="1898" width="688" height="591" rx="32" ry="32" fill="#EBEBEB" stroke="#000" stroke-width="8"/>
<text x="413.2" y="1959.1" font-size="50" text-anchor="middle" font-weight="bold">2AFC</text>
<text x="414.5" y="2015.5" font-size="50" text-anchor="middle" font-weight="bold" textLength="462.3" lengthAdjust="spacingAndGlyphs">Forced side-choice</text>
<text x="284.3" y="2078.8" font-size="49.5" text-anchor="middle" fill="#04356D" textLength="109.5" lengthAdjust="spacingAndGlyphs">Mice</text>
<text x="592.3" y="2078.8" font-size="49.5" text-anchor="middle" fill="#20938A" textLength="190.5" lengthAdjust="spacingAndGlyphs">Humans</text>
<text x="285.5" y="2135.5" font-size="38" text-anchor="middle" textLength="171.1" lengthAdjust="spacingAndGlyphs">(Random)</text>
<text x="593.7" y="2136.2" font-size="38" text-anchor="middle" textLength="171.1" lengthAdjust="spacingAndGlyphs">(Random)</text>
<text x="593.5" y="2424.1" font-size="38" text-anchor="middle">Joystick</text>
<text x="962.8" y="1958.5" font-size="50" font-weight="bold">[2AFC</text>
<text transform="translate(1111.5,1949.3) scale(2.05,1)" font-size="42" font-weight="bold">→</text>
<path d="M1168.5 1936.6 L1182.6 1941.8 L1168.5 1947 Z" fill="#000"/>
<text x="1351.2" y="1958.5" font-size="50" text-anchor="end" font-weight="bold">2AUC]</text>
<text x="1158.7" y="2014.4" font-size="50" text-anchor="middle" font-weight="bold" textLength="400.7" lengthAdjust="spacingAndGlyphs">Free side-choice</text>
<text x="1029.5" y="2100.7" font-size="49.5" text-anchor="middle" fill="#04356D" textLength="107.4" lengthAdjust="spacingAndGlyphs">Mice</text>
<text x="1334.9" y="2100.7" font-size="49.5" text-anchor="middle" fill="#20938A" textLength="190.2" lengthAdjust="spacingAndGlyphs">Humans</text>
<text x="1338" y="2424.1" font-size="38" text-anchor="middle">Joystick</text>
<path d="M134.8 2367 L170 2348 L201.8 2398 L166.6 2420.5 Z" fill="#7A7A7A" stroke="#000" stroke-width="3.8"/>
<path d="M400.6 2348 L435.9 2367 L405.2 2420.5 L370 2398 Z" fill="#7A7A7A" stroke="#000" stroke-width="3.8"/>
<path d="M218 2198.7 L352.8 2198.7 L420.2 2315.4 L352.8 2432.1 L218 2432.1 L150.6 2315.4 Z" fill="#F8C7D0"/>
<path d="M218 2198.7 L285.4 2198.7 L285.4 2262.5 L266.3 2262.5 L266.3 2304.6 L184.8 2259.5 Z" fill="#D1E3C9"/>
<g stroke="#3A3A3A" stroke-width="2.2" fill="none" stroke-linejoin="miter">
<path d="M184.8 2259.5 L266.3 2304.6 L266.3 2262.5 L266.3 2262.5"/>
<path d="M266.3 2304.6 L230.5 2325.6"/>
<path d="M386 2259.5 L304.2 2304.6 L304.2 2262.5"/>
<path d="M304.2 2304.6 L340 2325.6"/>
<path d="M248.8 2357.9 L285.3 2336.9 L321.8 2357.9"/>
<path d="M285.3 2336.9 L285.3 2431.8"/>
</g>
<path d="M218 2198.7 L352.8 2198.7 L420.2 2315.4 L352.8 2432.1 L218 2432.1 L150.6 2315.4 Z" fill="none" stroke="#000" stroke-width="3.4" stroke-linejoin="miter"/>
<path d="M185.9 2256.8 L199.5 2234 L223.4 2247.7 L210.9 2270.5 Z" fill="#A9D18E" stroke="#70BF4A" stroke-width="2.6"/>
<path d="M348.4 2247.7 L370 2234 L384.8 2256.8 L360.9 2270.5 Z" fill="#F0917A" stroke="#EE3038" stroke-width="2.6"/>
<rect x="280.9" y="2262.5" width="9" height="49" fill="#70BF4A"/>
<rect x="280.9" y="2247" width="9" height="7.5" fill="#70BF4A"/>
<rect x="-4.6" y="-4.3" width="9.2" height="8.6" fill="#70BF4A" transform="translate(271.5 2220.7) rotate(38)"/>
<rect x="-4.6" y="-4.3" width="9.2" height="8.6" fill="#EE3038" transform="translate(299.5 2220.7) rotate(-38)"/>
<rect x="-4.6" y="-4.3" width="9.2" height="8.6" fill="#70BF4A" transform="translate(256 2211.9) rotate(14)"/>
<rect x="-4.6" y="-4.3" width="9.2" height="8.6" fill="#EE3038" transform="translate(315 2211.9) rotate(-14)"/>
<rect x="-4.6" y="-4.3" width="9.2" height="8.6" fill="#70BF4A" transform="translate(237.6 2212.5) rotate(-16)"/>
<rect x="-4.6" y="-4.3" width="9.2" height="8.6" fill="#EE3038" transform="translate(333.4 2212.5) rotate(16)"/>
<path d="M219.4 2214.8 L238.3 2226.2 L216.2 2238.3 Z" fill="#70BF4A"/>
<path d="M351.6 2214.8 L332.7 2226.2 L354.8 2238.3 Z" fill="#EE3038"/>
<path d="M285.5 2226 L285.5 2239.6 L280.7 2239.6 L277.4 2233.2 L285.5 2226 Z" fill="#70BF4A"/>
<path d="M285.5 2226 L293.6 2233.2 L290.3 2239.6 L285.5 2239.6 Z" fill="#EE3038"/>
<path d="M234 2343.5 L285.3 2315.5 L336.6 2343.5" fill="none" stroke="#EE3038" stroke-width="7.8" stroke-linejoin="miter"/>
<path d="M217.9 2354.4 L229.8 2334.5 L242 2353.5 Z" fill="#EE3038"/>
<path d="M352.7 2354.4 L340.8 2334.5 L328.6 2353.5 Z" fill="#EE3038"/>
<rect x="253.2" y="2160" width="31" height="39" fill="url(#grat2)"/>
<rect x="284.2" y="2160" width="33" height="39" fill="#7A7A7A"/>
<rect x="253.2" y="2160" width="64" height="39" fill="none" stroke="#000" stroke-width="3"/>
<text x="197.8" y="2186.8" font-size="38.5">D</text>
<text x="338" y="2186.6" font-size="36">Δ</text>
<text x="126" y="2438.6" font-size="36">Δ</text>
<text x="423.8" y="2438.6" font-size="36">Δ</text>
<path d="M880.2 2367 L915.4 2348 L947.2 2398 L912 2420.5 Z" fill="#7A7A7A" stroke="#000" stroke-width="3.8"/>
<path d="M1146 2348 L1181.3 2367 L1150.6 2420.5 L1115.4 2398 Z" fill="#7A7A7A" stroke="#000" stroke-width="3.8"/>
<path d="M963.4 2198.7 L1098.2 2198.7 L1165.6 2315.4 L1098.2 2432.1 L963.4 2432.1 L896 2315.4 Z" fill="#F8C7D0"/>
<path d="M963.4 2198.7 L1098.2 2198.7 L1131.4 2259.5 L1049.6 2304.6 L1049.6 2262.5 L1011.7 2262.5 L1011.7 2304.6 L930.2 2259.5 Z" fill="#D1E3C9"/>
<g stroke="#3A3A3A" stroke-width="2.2" fill="none" stroke-linejoin="miter">
<path d="M930.2 2259.5 L1011.7 2304.6 L1011.7 2262.5 L1011.7 2262.5"/>
<path d="M1011.7 2304.6 L975.9 2325.6"/>
<path d="M1131.4 2259.5 L1049.6 2304.6 L1049.6 2262.5"/>
<path d="M1049.6 2304.6 L1085.4 2325.6"/>
<path d="M994.2 2357.9 L1030.7 2336.9 L1067.2 2357.9"/>
<path d="M1030.7 2336.9 L1030.7 2431.8"/>
</g>
<path d="M963.4 2198.7 L1098.2 2198.7 L1165.6 2315.4 L1098.2 2432.1 L963.4 2432.1 L896 2315.4 Z" fill="none" stroke="#000" stroke-width="3.4" stroke-linejoin="miter"/>
<path d="M931.3 2256.8 L944.9 2234 L968.8 2247.7 L956.3 2270.5 Z" fill="#A9D18E" stroke="#70BF4A" stroke-width="2.6"/>
<path d="M1093.8 2247.7 L1115.4 2234 L1130.2 2256.8 L1106.3 2270.5 Z" fill="#A9D18E" stroke="#70BF4A" stroke-width="2.6"/>
<rect x="1026.3" y="2262.5" width="9" height="49" fill="#70BF4A"/>
<rect x="1026.3" y="2247" width="9" height="7.5" fill="#70BF4A"/>
<rect x="-4.6" y="-4.3" width="9.2" height="8.6" fill="#70BF4A" transform="translate(1016.9 2220.7) rotate(38)"/>
<rect x="-4.6" y="-4.3" width="9.2" height="8.6" fill="#70BF4A" transform="translate(1044.9 2220.7) rotate(-38)"/>
<rect x="-4.6" y="-4.3" width="9.2" height="8.6" fill="#70BF4A" transform="translate(1001.4 2211.9) rotate(14)"/>
<rect x="-4.6" y="-4.3" width="9.2" height="8.6" fill="#70BF4A" transform="translate(1060.4 2211.9) rotate(-14)"/>
<rect x="-4.6" y="-4.3" width="9.2" height="8.6" fill="#70BF4A" transform="translate(983 2212.5) rotate(-16)"/>
<rect x="-4.6" y="-4.3" width="9.2" height="8.6" fill="#70BF4A" transform="translate(1078.8 2212.5) rotate(16)"/>
<path d="M964.8 2214.8 L983.7 2226.2 L961.6 2238.3 Z" fill="#70BF4A"/>
<path d="M1097 2214.8 L1078.1 2226.2 L1100.2 2238.3 Z" fill="#70BF4A"/>
<path d="M1030.9 2226 L1030.9 2239.6 L1026.1 2239.6 L1022.8 2233.2 L1030.9 2226 Z" fill="#70BF4A"/>
<path d="M1030.9 2226 L1039 2233.2 L1035.7 2239.6 L1030.9 2239.6 Z" fill="#70BF4A"/>
<path d="M979.4 2343.5 L1030.7 2315.5 L1082 2343.5" fill="none" stroke="#EE3038" stroke-width="7.8" stroke-linejoin="miter"/>
<path d="M963.3 2354.4 L975.2 2334.5 L987.4 2353.5 Z" fill="#EE3038"/>
<path d="M1098.1 2354.4 L1086.2 2334.5 L1074 2353.5 Z" fill="#EE3038"/>
<rect x="998.6" y="2160" width="64" height="39" fill="url(#grat3)" stroke="#000" stroke-width="3"/>
<text x="950" y="2186.8" font-size="38.5">D</text>
<text x="1090.4" y="2186.8" font-size="38.5">D</text>
<text x="871.4" y="2438.6" font-size="36">Δ</text>
<text x="1169.2" y="2438.6" font-size="36">Δ</text>
<path d="M486.8 2159.3 L522.9 2171.3 L498.8 2195.4 Z" fill="#70BF4A"/>
<line x1="540.5" y1="2213" x2="509.4" y2="2181.9" stroke="#70BF4A" stroke-width="9.6" stroke-dasharray="11 6"/>
<path d="M694.6 2159.3 L682.6 2195.4 L658.5 2171.3 Z" fill="#EE3038"/>
<line x1="640.9" y1="2213" x2="672" y2="2181.9" stroke="#EE3038" stroke-width="9.6" stroke-dasharray="11 6"/>
<path d="M486.8 2367.8 L498.8 2331.7 L522.9 2355.8 Z" fill="#70BF4A"/>
<line x1="540.5" y1="2314.1" x2="509.4" y2="2345.2" stroke="#70BF4A" stroke-width="9.6"/>
<path d="M694.6 2367.8 L658.5 2355.8 L682.6 2331.7 Z" fill="#EE3038"/>
<line x1="640.9" y1="2314.1" x2="672" y2="2345.2" stroke="#EE3038" stroke-width="9.6"/>
<ellipse cx="594.3" cy="2322.9" rx="21.5" ry="5.3" fill="#F2F2F2" stroke="#000" stroke-width="3.2"/>
<rect x="588.9" y="2312" width="10.5" height="14" fill="#A6A6A6"/>
<path d="M569.5 2238.5 C565.5 2244 568 2252 574.5 2259.5 C578 2268 576 2290 587 2312.5 C594 2314 600 2312 603.5 2307.5 C611 2285 613.5 2258 612.5 2240 C600 2232 580 2234 569.5 2238.5 Z" fill="#4A4A4A" stroke="#000" stroke-width="3" stroke-linejoin="round"/>
<path d="M568.5 2213.5 C575 2204.5 610 2204.5 617 2213.5 C620 2221 613 2235 606 2244 C598 2253 588 2253 583 2245 C574 2235 564 2222 568.5 2213.5 Z" fill="#4A4A4A" stroke="#000" stroke-width="3" stroke-linejoin="round"/>
<path d="M1230.1 2159.3 L1266.2 2171.3 L1242.1 2195.4 Z" fill="#70BF4A"/>
<line x1="1283.8" y1="2213" x2="1252.7" y2="2181.9" stroke="#70BF4A" stroke-width="9.6" stroke-dasharray="11 6"/>
<path d="M1437.9 2159.3 L1425.9 2195.4 L1401.8 2171.3 Z" fill="#70BF4A"/>
<line x1="1384.2" y1="2213" x2="1415.3" y2="2181.9" stroke="#70BF4A" stroke-width="9.6" stroke-dasharray="11 6"/>
<path d="M1230.1 2367.8 L1242.1 2331.7 L1266.2 2355.8 Z" fill="#70BF4A"/>
<line x1="1283.8" y1="2314.1" x2="1252.7" y2="2345.2" stroke="#70BF4A" stroke-width="9.6"/>
<path d="M1437.9 2367.8 L1401.8 2355.8 L1425.9 2331.7 Z" fill="#EE3038"/>
<line x1="1384.2" y1="2314.1" x2="1415.3" y2="2345.2" stroke="#EE3038" stroke-width="9.6"/>
<ellipse cx="1337.6" cy="2322.9" rx="21.5" ry="5.3" fill="#F2F2F2" stroke="#000" stroke-width="3.2"/>
<rect x="1332.2" y="2312" width="10.5" height="14" fill="#A6A6A6"/>
<path d="M1312.8 2238.5 C1308.8 2244 1311.3 2252 1317.8 2259.5 C1321.3 2268 1319.3 2290 1330.3 2312.5 C1337.3 2314 1343.3 2312 1346.8 2307.5 C1354.3 2285 1356.8 2258 1355.8 2240 C1343.3 2232 1323.3 2234 1312.8 2238.5 Z" fill="#4A4A4A" stroke="#000" stroke-width="3" stroke-linejoin="round"/>
<path d="M1311.8 2213.5 C1318.3 2204.5 1353.3 2204.5 1360.3 2213.5 C1363.3 2221 1356.3 2235 1349.3 2244 C1341.3 2253 1331.3 2253 1326.3 2245 C1317.3 2235 1307.3 2222 1311.8 2213.5 Z" fill="#4A4A4A" stroke="#000" stroke-width="3" stroke-linejoin="round"/>
</svg>
</body></html>
